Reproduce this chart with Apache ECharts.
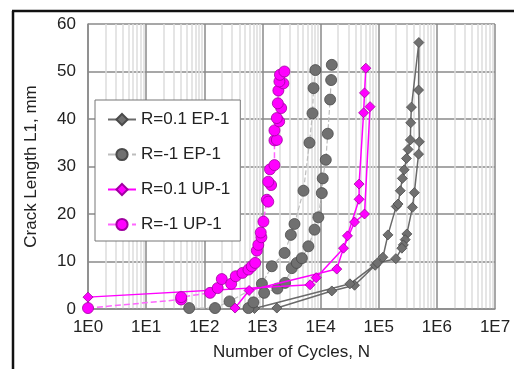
<!DOCTYPE html>
<html>
<head>
<meta charset="utf-8">
<script src="https://cdn.jsdelivr.net/npm/echarts@6/dist/echarts.min.js"></script>
<style>
html,body{margin:0;padding:0;background:#fff;}
#chart{width:514px;height:369px;}
</style>
</head>
<body>
<div id="chart"></div>
<script>
// ---- Data (null = break between specimens) ----
const seriesNames = ['R=0.1 EP-1', 'R=-1 EP-1', 'R=0.1 UP-1', 'R=-1 UP-1'];

const cyclesEP01 = [1770, 15600, 38400, 87000, 118000, 144000, 200000, 215000, 235000, 255000, 275000, 300000, 320000, 350000, 355000, 365000, 490000, 485000, 500000, 485000, 410000, 380000, 305000, 285000, 265000, 250000, 197000, 95000, 32000, 730];
const crackEP01  = [0.2, 3.8, 5.0, 9.2, 10.9, 15.6, 21.6, 22.1, 24.9, 27.5, 29.3, 31.7, 33.6, 35.6, 39.2, 42.5, 56.1, 46.1, 35.2, 32.6, 24.5, 21.4, 15.8, 14.6, 13.5, 12.8, 10.6, 9.7, 5.3, 0.1];

const cyclesEPm1 = [8140, 7560, 7260, 6440, 5080, 3560, 3080, 2400, 1450, 980, 271, 153, 55, null, 575, 700, 1070, 1810, 2450, 3200, 3900, 4770, 6170, 7870, 9160, 10500, 10900, 12300, 13300, 14600, 15200, 15600];
const crackEPm1  = [50.3, 46.5, 41.2, 35.0, 24.9, 17.9, 15.6, 11.8, 9.0, 5.3, 1.6, 0.2, 0.2, null, 0.2, 1.4, 3.4, 4.3, 5.5, 8.6, 9.7, 10.7, 13.2, 16.7, 19.3, 24.4, 27.5, 31.4, 36.9, 44.1, 48.2, 51.4];

const cyclesUP01 = [1, 6600, 8400, 24800, 38400, 57000, 71000, null, 338, 590, 19000, 29000, 46000, 46000, 55000, 57000, 60000];
const crackUP01  = [2.5, 5.1, 6.6, 12.8, 18.3, 20.0, 42.6, null, 0.2, 3.9, 8.4, 15.4, 23.1, 26.3, 41.3, 45.5, 50.7];

const cyclesUPm1 = [1, 40, 40, 126, 170, 200, 290, 348, 454, 575, 656, 750, 800, 850, 960, 935, 1040, 1190, 1260, 1410, 1260, 1350, 1610, 1610, 1770, 1610, 1940, 1770, 2100, 1840, 1880, 2290, 1960, 2000, 2390];
const crackUPm1  = [0.2, 2.0, 2.5, 3.4, 4.4, 6.3, 5.3, 6.9, 7.6, 8.3, 9.0, 9.7, 12.3, 13.5, 15.1, 16.1, 18.4, 23.0, 22.6, 26.1, 26.8, 29.4, 30.3, 35.5, 35.6, 37.6, 39.5, 40.2, 42.3, 43.3, 46.0, 47.5, 47.9, 49.3, 50.0];

// minor log grid values (2..9 per decade)
const minorGridValues = [];
for (let d = 0; d < 7; d++) for (let m = 2; m <= 9; m++) minorGridValues.push(m * Math.pow(10, d));

function pairs(xs, ys) {
  return xs.map((x, i) => (x == null ? '-' : [x, ys[i]]));
}

const chart = echarts.init(document.getElementById('chart'), null, {renderer: 'canvas'});
const FONT = 'Liberation Sans, Arial, sans-serif';

const option = {
  animation: false,
  backgroundColor: '#fff',
  textStyle: {fontFamily: FONT},
  grid: {left: 88, top: 24, right: 19, bottom: 60, containLabel: false},
  xAxis: {
    type: 'log', logBase: 10, min: 1, max: 1e7, splitNumber: 7,
    name: 'Number of Cycles, N', nameLocation: 'middle', nameGap: 35,
    nameTextStyle: {fontSize: 17, color: '#222', fontFamily: FONT},
    axisLine: {show: true, lineStyle: {color: '#8a8a8a', width: 1.5}},
    axisTick: {show: false},
    axisLabel: {fontSize: 17, color: '#222', margin: 10, fontFamily: FONT,
      formatter: v => '1E' + Math.round(Math.log10(v))},
    splitLine: {show: true, lineStyle: {color: '#8a8a8a', width: 1.5}}
  },
  yAxis: {
    type: 'value', min: 0, max: 60, interval: 10,
    name: 'Crack Length L1, mm', nameLocation: 'middle', nameGap: 48, nameRotate: 90,
    nameTextStyle: {fontSize: 17, color: '#222', fontFamily: FONT},
    axisLine: {show: true, lineStyle: {color: '#8a8a8a', width: 1.5}},
    axisTick: {show: false},
    axisLabel: {fontSize: 17, color: '#222', margin: 12, fontFamily: FONT},
    splitLine: {show: true, lineStyle: {color: '#8a8a8a', width: 1.5}}
  },
  legend: {
    data: seriesNames,
    orient: 'vertical', left: 95, top: 100,
    padding: [11, 10, 8, 12], itemGap: 18, itemWidth: 28, itemHeight: 14,
    backgroundColor: '#fff', borderColor: '#777', borderWidth: 1,
    textStyle: {fontSize: 17, color: '#222', fontFamily: FONT}
  },
  graphic: [
    {type: 'line', shape: {x1: 12, y1: 11, x2: 514, y2: 11}, style: {stroke: '#111', lineWidth: 2.5}, z: 100},
    {type: 'line', shape: {x1: 13, y1: 11, x2: 13, y2: 369}, style: {stroke: '#111', lineWidth: 2.5}, z: 100}
  ],
  series: [
    {
      name: 'minor-grid', type: 'line', data: [], silent: true, z: 1,
      markLine: {
        silent: true, z: 0, zlevel: 0, symbol: ['none', 'none'], label: {show: false},
        lineStyle: {color: '#dddddd', width: 1.5, type: 'solid'},
        emphasis: {disabled: true},
        data: minorGridValues.map(v => ({xAxis: v}))
      }
    },
    {
      name: seriesNames[0], type: 'line', data: pairs(cyclesEP01, crackEP01), z: 3,
      symbol: 'diamond', symbolSize: 10,
      lineStyle: {color: '#6a6a6a', width: 1.5},
      itemStyle: {color: '#707070', borderColor: '#4a4a4a', borderWidth: 0.8}
    },
    {
      name: seriesNames[1], type: 'line', data: pairs(cyclesEPm1, crackEPm1), z: 3,
      symbol: 'circle', symbolSize: 11,
      lineStyle: {color: '#bdbdbd', width: 1.2, type: 'dashed'},
      itemStyle: {color: '#707070', borderColor: '#4a4a4a', borderWidth: 0.8}
    },
    {
      name: seriesNames[2], type: 'line', data: pairs(cyclesUP01, crackUP01), z: 4,
      symbol: 'diamond', symbolSize: 10,
      lineStyle: {color: '#ff00ff', width: 1.5},
      itemStyle: {color: '#ff00ff', borderColor: '#a000a0', borderWidth: 0.8}
    },
    {
      name: seriesNames[3], type: 'line', data: pairs(cyclesUPm1, crackUPm1), z: 4,
      symbol: 'circle', symbolSize: 11,
      lineStyle: {color: '#ff66ff', width: 1.5, type: 'dashed'},
      itemStyle: {color: '#ff00ff', borderColor: '#a000a0', borderWidth: 0.8}
    }
  ]
};
chart.setOption(option);
</script>
</body>
</html>
